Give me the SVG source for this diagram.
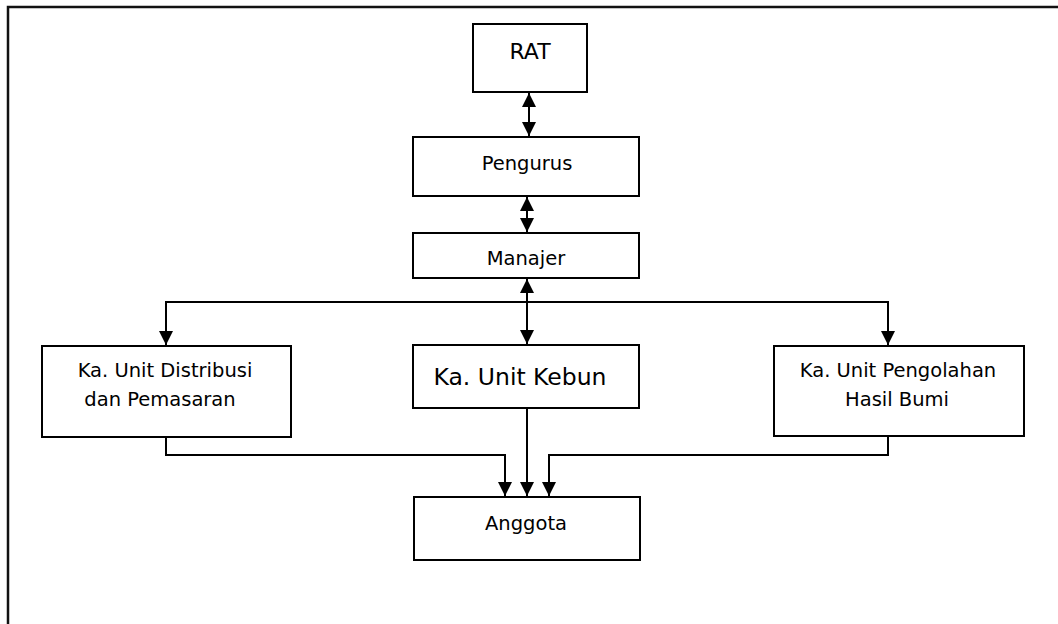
<svg xmlns="http://www.w3.org/2000/svg" width="1058" height="624" viewBox="0 0 1058 624">
<style>
.box{fill:#fff;stroke:#000;stroke-width:2}
.t{font-family:"DejaVu Sans",Verdana,sans-serif;font-size:19.5px;fill:#000;text-anchor:middle}
.c{fill:none;stroke:#000;stroke-width:2}
</style>
<defs>
<marker id="ah" markerUnits="userSpaceOnUse" markerWidth="15" markerHeight="15" refX="14" refY="7.5" orient="auto-start-reverse" viewBox="0 0 15 15">
<path d="M0,0.5 L14,7.5 L0,14.5 z" fill="#000"/>
</marker>
</defs>
<rect width="1058" height="624" fill="#fff"/>
<path d="M8,624 V7 H1058" fill="none" stroke="#111" stroke-width="2.5"/>
<g id="connectors">
<line class="c" x1="529" y1="93" x2="529" y2="136" marker-start="url(#ah)" marker-end="url(#ah)"/>
<line class="c" x1="527" y1="197" x2="527" y2="232" marker-start="url(#ah)" marker-end="url(#ah)"/>
<line class="c" x1="527" y1="279" x2="527" y2="344" marker-start="url(#ah)" marker-end="url(#ah)"/>
<path class="c" d="M166,345 V302 H888 V345" marker-start="url(#ah)" marker-end="url(#ah)"/>
<path class="c" d="M166,437 V455 H505 V496" marker-end="url(#ah)"/>
<line class="c" x1="527" y1="408" x2="527" y2="496" marker-end="url(#ah)"/>
<path class="c" d="M888,432 V455 H549 V496" marker-end="url(#ah)"/>
</g>
<g id="rat"><rect class="box" x="473" y="24" width="114" height="68"/><text class="t" x="530" y="59" style="font-size:22px">RAT</text></g>
<g id="pengurus"><rect class="box" x="413" y="137" width="226" height="59"/><text class="t" x="527" y="170">Pengurus</text></g>
<g id="manajer"><rect class="box" x="413" y="233" width="226" height="45"/><text class="t" x="526" y="265">Manajer</text></g>
<g id="distribusi"><rect class="box" x="42" y="346" width="249" height="91"/><text class="t" x="165" y="377">Ka. Unit Distribusi</text><text class="t" x="160" y="406">dan Pemasaran</text></g>
<g id="kebun"><rect class="box" x="413" y="345" width="226" height="63"/><text class="t" x="520" y="385" style="font-size:23.5px">Ka. Unit Kebun</text></g>
<g id="pengolahan"><rect class="box" x="774" y="346" width="250" height="90"/><text class="t" x="898" y="377">Ka. Unit Pengolahan</text><text class="t" x="897" y="406">Hasil Bumi</text></g>
<g id="anggota"><rect class="box" x="414" y="497" width="226" height="63"/><text class="t" x="526" y="530">Anggota</text></g>
</svg>
